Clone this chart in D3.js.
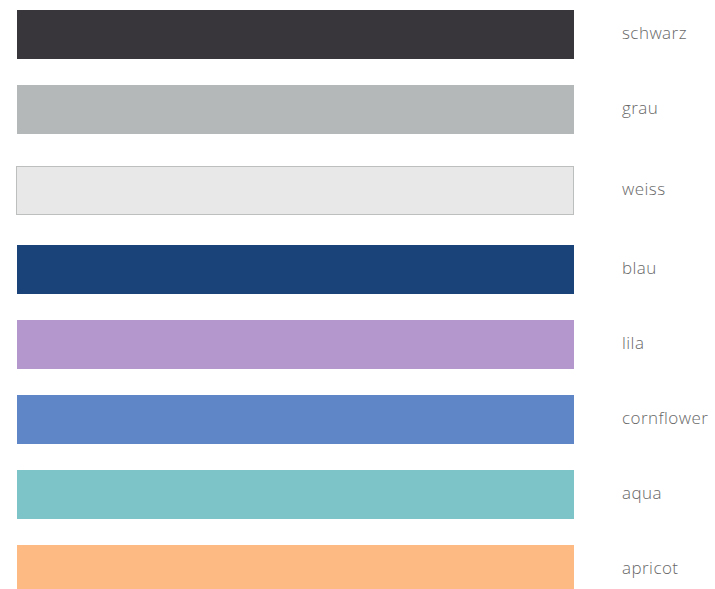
<!DOCTYPE html>
<html>
<head>
<meta charset="utf-8">
<script src="https://cdn.jsdelivr.net/npm/d3@7"></script>
<style>
html,body{margin:0;padding:0;background:#fff;overflow:hidden;}
svg{display:block;}
</style>
</head>
<body>
<svg id="chart" width="715" height="589"></svg>
<script>
const names = ["schwarz","grau","weiss","blau","lila","cornflower","aqua","apricot"];
const colors = ["#38363b","#b4b8b8","#e8e8e8","#1a4479","#b497cd","#5f87c8","#7cc4c8","#fdba83"];
const outlined = ["weiss"];

const svg = d3.select("#chart");

// layout: rows 75px apart; the outlined swatch gets extra breathing room
const rowStep = 75, barH = 49, extraTop = 6, extraBottom = 4;
const idx = d3.scaleLinear().domain([0, 1]).range([10, 10 + rowStep]);
let shift = 0;
const rows = names.map((n, i) => {
  const o = outlined.includes(n);
  if (o) shift += extraTop;
  const y = idx(i) + shift;
  if (o) shift += extraBottom;
  return {name: n, color: colors[i], outlined: o, y};
});

const x = d3.scaleLinear().domain([0, 1]).range([17, 574]);

const g = svg.append("g");
g.selectAll("rect").data(rows).join("rect")
  .attr("x", d => d.outlined ? x(0) - 0.5 : x(0))
  .attr("y", d => d.outlined ? d.y + 0.5 : d.y)
  .attr("width", x(1) - x(0))
  .attr("height", d => d.outlined ? barH - 1 : barH)
  .attr("fill", d => d.color)
  .attr("stroke", d => d.outlined ? "#bcbfbe" : "none")
  .attr("stroke-width", 1);

g.selectAll("text").data(rows).join("text")
  .attr("x", 622)
  .attr("y", d => d.y + barH / 2 + 4.5)
  .attr("font-family", "'Open Sans', sans-serif")
  .attr("font-size", 17)
  .attr("font-weight", 300)
  .attr("letter-spacing", 0.45)
  .attr("fill", "#686868")
  .text(d => d.name);
</script>
</body>
</html>
